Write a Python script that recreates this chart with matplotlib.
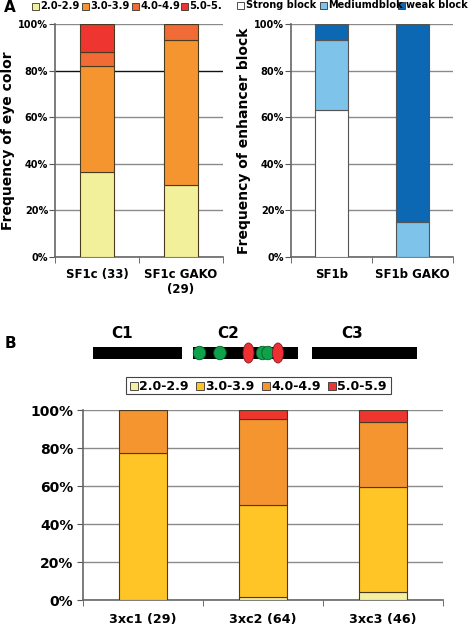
import numpy as np
import matplotlib
matplotlib.use("Agg")
from matplotlib import pyplot as plt
from matplotlib.patches import Rectangle, Ellipse

W, H = 471, 626

# Panel A left: eye color classes
eye_classes = ["2.0-2.9", "3.0-3.9", "4.0-4.9", "5.0-5."]
eye_lines = ["SF1c (33)", "SF1c GAKO\n(29)"]
eye_vals = [[36.4, 31.0],   # 2.0-2.9
            [45.4, 62.1],   # 3.0-3.9
            [6.1, 6.9],     # 4.0-4.9
            [12.1, 0.0]]    # 5.0-5.9
eye_colors = ["#f3f09c", "#f5952f", "#f06b35", "#ee3530"]

# Panel A right: enhancer block
blk_classes = ["Strong block", "Mediumdblok", "weak block"]
blk_lines = ["SF1b", "SF1b GAKO"]
blk_vals = [[63.0, 0.0],
            [30.0, 15.0],
            [7.0, 85.0]]
blk_colors = ["#ffffff", "#7dc3ea", "#0d68b4"]

# Panel B
b_classes = ["2.0-2.9", "3.0-3.9", "4.0-4.9", "5.0-5.9"]
b_lines = ["3xc1 (29)", "3xc2 (64)", "3xc3 (46)"]
b_vals = [[0.0, 1.6, 4.3],
          [77.6, 48.4, 55.1],
          [22.4, 45.3, 34.1],
          [0.0, 4.7, 6.5]]
b_colors = ["#f5f0a0", "#ffc425", "#f5952f", "#ee3530"]

# construct diagram (C1, C2, C3 segments, binding sites)
segments = [("C1", 0, 89, 29), ("C2", 100, 205, 135), ("C3", 219, 324, 259)]
green_sites = [106.5, 127, 169.5, 175]
red_sites = [155.5, 185]

plt.rcParams["font.family"] = "DejaVu Sans"
plt.rcParams["font.weight"] = "bold"

fig = plt.figure(figsize=(W / 100, H / 100), dpi=100)


def rect(l, t, r, b):
    return [l / W, 1 - b / H, (r - l) / W, (b - t) / H]


def stacked(ax, lines, vals, colors, edge, tick_fs, cat_fs):
    x = np.arange(len(lines))
    bottom = np.zeros(len(lines))
    for v, c in zip(vals, colors):
        v = np.array(v)
        ax.bar(x, v, 0.4, bottom=bottom, color=c, edgecolor=edge, linewidth=0.8, zorder=3)
        bottom += v
    ax.set_xlim(-0.5, len(lines) - 0.5)
    ax.set_ylim(0, 100)
    ax.set_yticks(np.arange(0, 101, 20))
    ax.set_yticklabels(["%d%%" % t for t in range(0, 101, 20)], fontsize=tick_fs, fontweight="bold")
    ax.yaxis.grid(True, color="#8a8a8a", linewidth=1.0, zorder=0)
    ax.set_xticks(x)
    ax.set_xticklabels(lines, fontsize=cat_fs, fontweight="bold")
    ax.tick_params(axis="x", length=0, pad=8)
    ax.set_xticks(np.arange(len(lines) + 1) - 0.5, minor=True)
    ax.tick_params(axis="x", which="minor", length=4, color="#555555")
    ax.tick_params(axis="y", length=4, color="#555555", pad=1)
    for s in ["top", "right"]:
        ax.spines[s].set_visible(False)
    for s in ["left", "bottom"]:
        ax.spines[s].set_color("#666666")
        ax.spines[s].set_linewidth(1.2)


def legend_row(xs, y, labels, colors, fs, sw=7):
    for x, lab, c in zip(xs, labels, colors):
        fig.patches.append(Rectangle((x / W, 1 - (y + sw / 2) / H), sw / W, sw / H,
                                     transform=fig.transFigure, facecolor=c,
                                     edgecolor="#333333", linewidth=0.6))
        fig.text((x + sw + 1.5) / W, 1 - y / H, lab, fontsize=fs, fontweight="bold",
                 va="center", ha="left")


# --- Panel A left
ax1 = fig.add_axes(rect(55, 24, 223, 257))
stacked(ax1, eye_lines, eye_vals, eye_colors, "#4a3a20", 7, 8.5)
ax1.get_ygridlines()[4].set_color("#111111")
ax1.set_ylabel("Frequency of eye color", fontsize=10, fontweight="bold", labelpad=2)
legend_row([32, 82, 132, 181], 6, eye_classes, eye_colors, 7.2)
fig.text(4 / W, 1 - 7 / H, "A", fontsize=11, fontweight="bold", va="center")

# --- Panel A right
ax2 = fig.add_axes(rect(291, 24, 453, 257))
stacked(ax2, blk_lines, blk_vals, blk_colors, "#555555", 7, 8.5)
ax2.set_ylabel("Frequency of enhancer block", fontsize=10, fontweight="bold", labelpad=2)
legend_row([237, 320, 398], 5, blk_classes, blk_colors, 7.0)

# --- Panel B diagram
axd = fig.add_axes(rect(93, 320, 417, 370))
axd.set_xlim(0, 324)
axd.set_ylim(0, 50)
axd.axis("off")
for name, a, b, lx in segments:
    axd.add_patch(Rectangle((a, 11), b - a, 12, facecolor="black", edgecolor="none"))
    axd.text(lx, 37, name, fontsize=11, fontweight="bold", ha="center", va="center")
for g in green_sites:
    axd.add_patch(Ellipse((g, 17), 12.5, 13.5, facecolor="#0ea24a", edgecolor="#0a5a2a", linewidth=0.6))
for r in red_sites:
    axd.add_patch(Ellipse((r, 17), 11, 20, facecolor="#ee3035", edgecolor="#7a1a1a", linewidth=0.6))
fig.text(5 / W, 1 - 343 / H, "B", fontsize=11, fontweight="bold", va="center")

# legend box for B
fig.patches.append(Rectangle((126 / W, 1 - 394 / H), 265 / W, 17 / H, transform=fig.transFigure,
                             facecolor="white", edgecolor="#444444", linewidth=0.8))
legend_row([130, 196, 262, 328], 386, b_classes, b_colors, 9.0, sw=8)

# --- Panel B chart
ax3 = fig.add_axes(rect(83, 410, 443, 600))
stacked(ax3, b_lines, b_vals, b_colors, "#4a3a20", 10, 9.2)
ax3.tick_params(axis="x", pad=9)
ax3.tick_params(axis="y", pad=3)

fig.savefig("out.png", dpi=100)
